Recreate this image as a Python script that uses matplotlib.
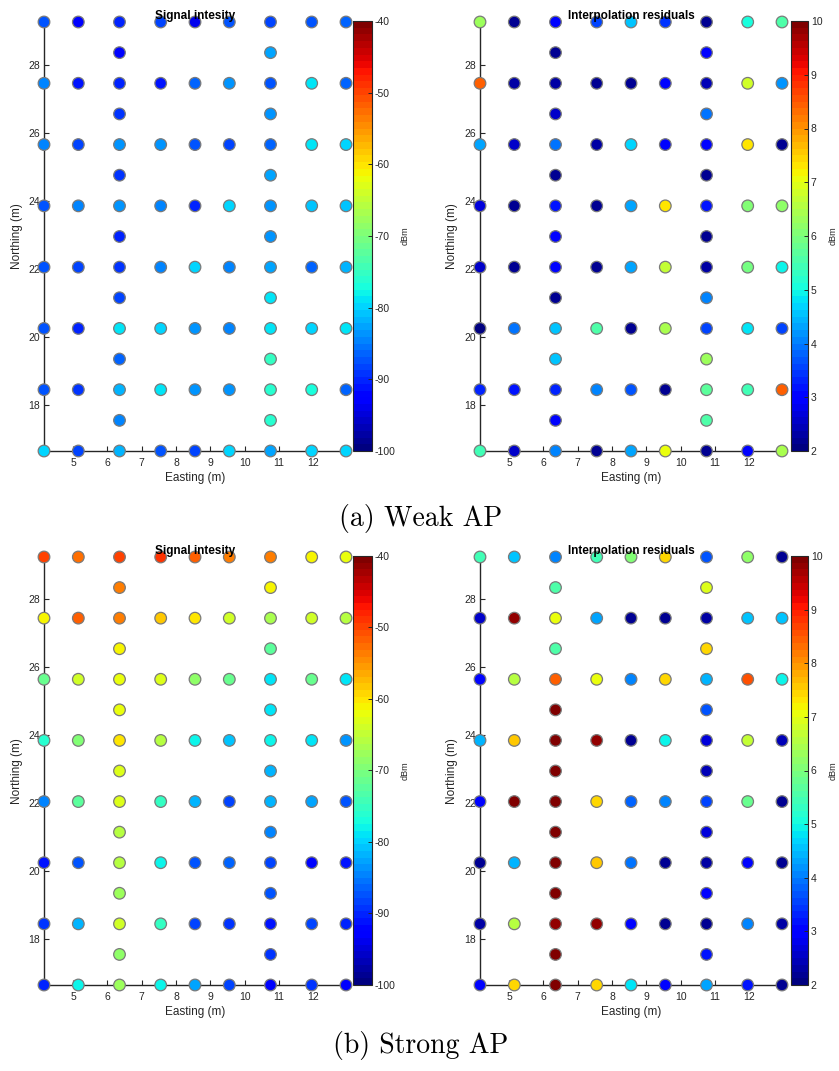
import numpy as np
import matplotlib
matplotlib.use('Agg')
import matplotlib.pyplot as plt

plt.rcParams['font.family'] = ['Liberation Sans', 'DejaVu Sans']
plt.rcParams['axes.unicode_minus'] = False

# survey grid: full rows use every easting, the rows in between only the two corridors
easting_full = [4.15, 5.15, 6.35, 7.55, 8.55, 9.55, 10.75, 11.95, 12.95]
easting_half = [6.35, 10.75]
northing = [29.25, 28.35, 27.45, 26.55, 25.65, 24.75, 23.85, 22.95,
            22.05, 21.15, 20.25, 19.35, 18.45, 17.55, 16.65]

# rows listed top to bottom (dBm)
weak_signal = [
    [-87, -93, -90, -88, -94, -87, -88, -87, -86],
    [-92, -83],
    [-85, -91, -90, -91, -86, -84, -87, -79, -86],
    [-89, -84],
    [-85, -88, -84, -84, -87, -88, -86, -79, -80],
    [-89, -83],
    [-87, -85, -84, -85, -90, -80, -84, -81, -81],
    [-90, -84],
    [-87, -88, -89, -85, -80, -85, -83, -86, -82],
    [-88, -79],
    [-87, -90, -79, -80, -84, -85, -79, -80, -79],
    [-86, -75],
    [-87, -89, -82, -79, -84, -84, -76, -77, -86],
    [-85, -76],
    [-80, -88, -82, -87, -88, -80, -83, -80, -80],
]
weak_resid = [
    [6.3, 2.2, 3.1, 3.6, 4.6, 3.4, 2.2, 5.1, 5.5],
    [2.2, 3.0],
    [8.4, 2.3, 2.3, 2.2, 2.2, 3.0, 2.4, 6.8, 4.2],
    [2.5, 3.9],
    [4.3, 2.6, 3.9, 2.3, 4.7, 3.0, 3.0, 7.3, 2.2],
    [2.2, 2.2],
    [2.7, 2.2, 3.2, 2.2, 4.3, 7.3, 3.2, 6.0, 6.2],
    [3.0, 2.2],
    [2.6, 2.2, 3.0, 2.2, 4.3, 6.7, 2.3, 5.9, 4.9],
    [2.2, 4.0],
    [2.1, 3.9, 4.6, 5.6, 2.2, 6.4, 3.5, 4.8, 3.5],
    [4.5, 6.3],
    [3.3, 3.2, 3.3, 4.1, 3.7, 2.2, 5.7, 5.4, 8.4],
    [3.0, 5.6],
    [5.4, 2.6, 4.0, 2.2, 4.3, 7.0, 2.2, 3.1, 6.4],
]
strong_signal = [
    [-50, -53, -50, -49, -52, -54, -54, -61, -62],
    [-54, -61],
    [-61, -52, -54, -58, -60, -64, -67, -64, -66],
    [-61, -72],
    [-71, -64, -62, -63, -69, -71, -79, -71, -79],
    [-62, -79],
    [-76, -70, -60, -66, -78, -81, -78, -79, -84],
    [-63, -82],
    [-85, -72, -63, -75, -82, -88, -82, -83, -87],
    [-66, -85],
    [-91, -87, -66, -78, -87, -86, -88, -92, -91],
    [-68, -87],
    [-89, -82, -64, -75, -88, -89, -91, -88, -90],
    [-69, -89],
    [-90, -78, -68, -78, -83, -88, -92, -89, -93],
]
strong_resid = [
    [5.4, 4.5, 4.1, 5.4, 6.0, 7.4, 3.7, 6.2, 2.2],
    [5.6, 6.9],
    [2.5, 9.8, 7.1, 4.3, 2.2, 2.2, 2.3, 4.6, 4.5],
    [5.6, 7.4],
    [3.0, 6.6, 8.4, 7.1, 4.0, 7.4, 4.4, 8.5, 4.9],
    [9.9, 3.7],
    [4.4, 7.6, 9.9, 9.8, 2.2, 4.9, 2.7, 6.7, 2.4],
    [9.9, 2.4],
    [3.0, 9.9, 9.9, 7.4, 3.8, 4.0, 3.5, 5.8, 2.2],
    [9.9, 2.7],
    [2.2, 4.4, 9.9, 7.6, 3.9, 2.2, 2.3, 3.0, 2.2],
    [9.9, 3.0],
    [2.3, 6.5, 9.8, 9.8, 3.0, 2.2, 2.2, 4.0, 2.3],
    [9.9, 3.2],
    [3.0, 7.4, 9.9, 7.4, 4.8, 3.0, 4.3, 3.2, 2.2],
]

signal_range = (-100, -40)
resid_range = (2, 10)
signal_ticks = [-100, -90, -80, -70, -60, -50, -40]
resid_ticks = [2, 3, 4, 5, 6, 7, 8, 9, 10]
x_ticks = [5, 6, 7, 8, 9, 10, 11, 12]
y_ticks = [18, 20, 22, 24, 26, 28]


def flatten(rows):
    xs, ys, vs = [], [], []
    for n, row in zip(northing, rows):
        cols = easting_full if len(row) == len(easting_full) else easting_half
        xs += cols
        ys += [n] * len(row)
        vs += row
    return np.array(xs), np.array(ys), np.array(vs)


cmap = plt.get_cmap('jet', 64)
axis_col = '#262626'

fig = plt.figure(figsize=(8.39, 10.71), dpi=100)
W, H = 839, 1071


def px_rect(left, top, right, bottom):
    return [left / W, 1 - bottom / H, (right - left) / W, (bottom - top) / H]


def panel(ax_rect, cb_rect, rows, vrange, cticks, title, ylab_x, cblab_x):
    ax = fig.add_axes(ax_rect)
    xs, ys, vs = flatten(rows)
    sc = ax.scatter(xs, ys, c=vs, cmap=cmap, vmin=vrange[0], vmax=vrange[1],
                    s=70, edgecolors='#7a7a7a', linewidths=0.9,
                    clip_on=False, zorder=3)
    ax.set_xlim(min(easting_full), max(easting_full))
    ax.set_ylim(min(northing), max(northing))
    for side in ('top', 'right'):
        ax.spines[side].set_visible(False)
    for side in ('left', 'bottom'):
        ax.spines[side].set_color(axis_col)
        ax.spines[side].set_linewidth(1.0)
    ax.set_xticks(x_ticks)
    ax.set_yticks(y_ticks)
    ax.tick_params(direction='in', length=3.5, width=0.8, colors=axis_col,
                   labelsize=7.5)
    ax.tick_params(axis='x', pad=5)
    ax.tick_params(axis='y', pad=3)
    ax.set_xlabel('Easting (m)', fontsize=8.5, color=axis_col)
    ax.set_ylabel('Northing (m)', fontsize=8.5, color=axis_col)
    ax.xaxis.set_label_coords(0.5, -0.049)
    ax.yaxis.set_label_coords(ylab_x, 0.5)
    ax.set_title(title, fontsize=8.5, fontweight='bold', pad=2)

    cax = fig.add_axes(cb_rect)
    cb = fig.colorbar(sc, cax=cax, ticks=cticks)
    cb.outline.set_linewidth(0.8)
    cb.outline.set_edgecolor(axis_col)
    cax.tick_params(direction='in', length=3, width=0.7, colors=axis_col,
                    labelsize=7.5, pad=2)
    cb.set_label('dBm', fontsize=6.5, color=axis_col)
    cax.yaxis.set_label_coords(cblab_x, 0.5)
    return ax


# (a) weak access point
panel(px_rect(44, 22, 346, 451), px_rect(353, 21, 372, 451),
      weak_signal, signal_range, signal_ticks, 'Signal intesity', -0.07, 2.5)
panel(px_rect(480, 22, 782, 451), px_rect(791, 21, 808, 451),
      weak_resid, resid_range, resid_ticks, 'Interpolation residuals', -0.073, 2.2)

# (b) strong access point
panel(px_rect(44, 557, 346, 985), px_rect(353, 556, 372, 985),
      strong_signal, signal_range, signal_ticks, 'Signal intesity', -0.07, 2.5)
panel(px_rect(480, 557, 782, 985), px_rect(791, 556, 808, 985),
      strong_resid, resid_range, resid_ticks, 'Interpolation residuals', -0.073, 2.2)

fig.text(421 / W, 1 - 518 / H, '(a) Weak AP', family='cmr10', fontsize=20,
         ha='center', va='center')
fig.text(421 / W, 1 - 1046 / H, '(b) Strong AP', family='cmr10', fontsize=20,
         ha='center', va='center')

fig.savefig('out.png', dpi=100)
